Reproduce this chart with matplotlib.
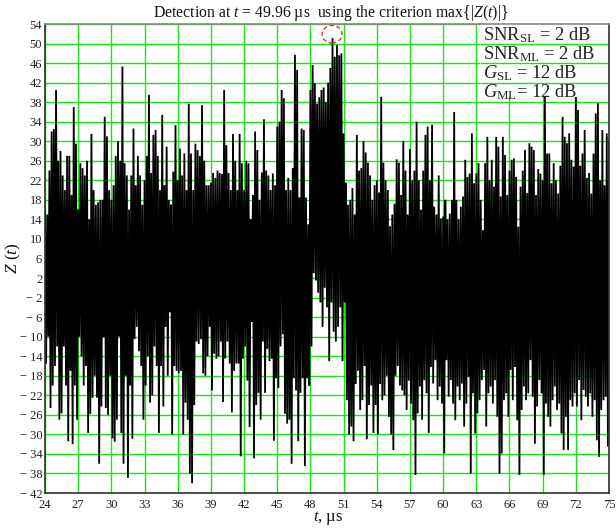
import numpy as np
import matplotlib
matplotlib.use("Agg")
import matplotlib.pyplot as plt
from matplotlib.patches import Ellipse, Rectangle

# ---- data (local maxima / minima, every 0.2 us) ----
z_max = [
    16, 15, 24, 32, 32.5, 40.5, 26, 28, 23, 20, 27, 27, 19, 37, 29.5,          # 24-27
    16, 25.5, 24.5, 23, 26, 14, 31.5, 20, 17, 17.5, 18, 18, 35, 31, 20,         # 27-30
    18, 21, 27, 30, 26, 45.3, 25.5, 23, 16, 23, 32.6, 21, 27, 23, 17,           # 30-33
    22, 27, 39.5, 23.5, 31.3, 32.3, 27, 20, 35.4, 21, 28.9, 18, 17, 23.8, 33.3,  # 33-36
    22, 28.5, 23, 27.5, 20, 37.7, 27.5, 20, 29.5, 28.2, 27, 37.4, 26, 21, 21,   # 36-39
    21.5, 23.5, 22.5, 24, 23.5, 23.3, 40.5, 29.2, 23.5, 20, 31.5, 26, 20, 31.5, 25.5,  # 39-42
    20, 26, 25.5, 14, 19, 32, 28.2, 18, 23.6, 34.5, 24, 23, 20, 23.4, 21,        # 42-45
    33, 34, 40.5, 38.8, 20, 22.5, 20, 24.5, 47.7, 44.6, 18.5, 32.6, 32.3, 18.5, 13,  # 45-48
    40.5, 45.6, 41.9, 37.7, 39, 40.5, 41, 38, 42, 45, 51.1, 47.3, 49.7, 47.6, 48,    # 48-51
    31.6, 21.5, 17, 18, 20.4, 15, 31.3, 24, 24.5, 30, 27.7, 25.6, 23, 18, 21,   # 51-54
    22, 19.5, 39.1, 25.6, 22, 20, 12.6, 15, 17.2, 26.3, 25.6, 19, 30, 24, 15,   # 54-57
    28.4, 22, 24, 34, 22, 16, 24, 31.3, 33, 22, 33.4, 16.6, 15, 23, 14.2,       # 57-60
    14.6, 18, 14, 15.2, 18, 36, 18, 14, 16.6, 18.7, 26.2, 22.7, 23.4, 31.6, 21.4,  # 60-63
    23.4, 25.5, 18, 11.8, 25.5, 30.9, 22, 26.2, 20.7, 30.9, 28.9, 18.7, 30.9, 27.2, 19,  # 63-66
    24, 26.2, 26.5, 22.7, 12.5, 20.7, 24, 28.2, 19.4, 29.6, 28.9, 28.2, 19, 24.3, 23.4,  # 66-69
    22, 40, 27.5, 27.5, 21.4, 25.5, 22, 19.3, 25, 35, 30.9, 29.6, 31.6, 26.2, 24.8,    # 69-72
    40, 36.4, 25, 27.5, 32.3, 22.5, 23.5, 19.3, 27.5, 35.7, 37.8, 22, 32.3, 21, 31.6,  # 72-75
    30,
]
z_min = [
    -15.5, -10, -24.6, -20, -16, -12, -27, -25.7, -12, -20, -31.4, -17, -32, -20, -27,
    -10, -14, -20, -16, -29.7, -25.8, -22.5, -18, -22.5, -36, -24.3, -10, -24.6, -26, -18,
    -30.8, -31.5, -27, -10, -29.7, -36, -18, -38.9, -20, -30.9, -10.5, -8, -13, -16, -27,
    -20, -14, -23.5, -22, -12, -16, -29.7, -16, -24.3, -8, -18, -5, -30, -16, -17,
    -17.5, -17, -30, -23.5, -27, -38, -40, -24, -11, -11.5, -10.5, -17.5, -18, -14, -8,
    -21, -13.5, -14.5, -14, -11, -23.4, -14.5, -11, -15.5, -25.5, -17, -15.5, -15.5, -34.5, -14.5,
    -12, -19, -28.5, -7, -34.9, -24, -21.5, -27, -11, -21.5, -12.5, -15, -14.5, -31.3, -18.5,
    -20.5, -12, -9.5, -25.8, -27.8, -27, -36, -18.5, -21, -31.4, -21.5, -18.5, -36.5, -18.5, -20,
    -12, 3, 1.5, -1, -3, -8, 0, -4, -15, -3, -9, -11, -8, -4, -15,
    -3, -23, -30, -28.4, -31.4, -19.7, -17, -25, -23, -16, -31, -24, -20, -29.7, -24,
    -30, -19.7, -23, -22, -18, -26.4, -30, -33.2, -18, -16, -20, -21, -22, -25, -19,
    -23.7, -27.1, -38.3, -25.7, -20.2, -27, -18.9, -21.6, -29.7, -16.2, -19.6, -14.8, -23, -20.2, -23.7,
    -33.9, -14.8, -22.3, -18.9, -23.7, -27.1, -20.2, -23, -19.6, -28.4, -23.7, -18.2, -38, -21.6, -29.8,
    -25.7, -23, -18.9, -16.8, -28.4, -21.6, -20.2, -23.7, -18.9, -26.4, -38, -33.9, -23, -21.6, -26.4,
    -16.8, -23, -16.2, -27.1, -38.3, -25, -20.2, -23, -21.6, -14.8, -22.3, -31.9, -24.3, -18.9, -21.6,
    -38.3, -23.7, -26.4, -28.4, -23, -20.2, -25, -23.7, -29.8, -33.2, -26.4, -33.2, -23, -24.3, -21.6,
    -24.3, -18.9, -27.1, -20.9, -22.3, -24.3, -21.6, -26.4, -23, -31.2, -34.6, -25, -23, -22.3, -32.5,
]
t_start, t_end = 24, 75
x_ticks = list(range(24, 76, 3))
y_ticks = list(range(-42, 55, 4))
t_detect = 49.96
z_detect = 51.9
legend_lines = [r"SNR$_{\rm SL}$ = 2 dB", r"SNR$_{\rm ML}$ = 2 dB",
                r"$G_{\rm SL}$ = 12 dB", r"$G_{\rm ML}$= 12 dB"]

# ---- build the series ----
z = np.empty(len(z_max) + len(z_min))
z[0::2] = z_max
z[1::2] = z_min
t = np.linspace(t_start, t_end, len(z))

plt.rcParams['font.family'] = ['Liberation Serif', 'DejaVu Serif']
plt.rcParams['mathtext.fontset'] = 'custom'
plt.rcParams['mathtext.rm'] = 'Liberation Serif'
plt.rcParams['mathtext.it'] = 'Liberation Serif:italic'

W, H = 616, 528
fig = plt.figure(figsize=(W / 100, H / 100), dpi=100)
L, R, T, B = 45, 609, 24, 493
ax = fig.add_axes([L / W, 1 - B / H, (R - L) / W, (B - T) / H])

green = '#19e619'
ax.set_xlim(t_start, t_end)
ax.set_ylim(-42, 54)
ax.set_xticks(x_ticks)
ax.set_yticks(y_ticks)
ax.set_xticklabels([str(v) for v in x_ticks])
ax.set_yticklabels([("\u2212 %d" % -v) if v < 0 else str(v) for v in y_ticks])
ax.tick_params(length=0, labelsize=9, colors='#222222')
ax.tick_params(axis='y', pad=2)
ax.tick_params(axis='x', pad=4)
ax.grid(True, color=green, lw=1.0)
ax.set_axisbelow(True)

ax.plot(t, z, color='black', lw=1.3, zorder=2, solid_joinstyle='miter')

# legend block (white background, horizontal grid lines pass through it)
x0 = t_start + (480 - L) / (R - L) * (t_end - t_start)
ax.add_patch(Rectangle((x0, 39), t_end - x0, 54 - 39, facecolor='white',
                       edgecolor='none', zorder=3))
ax.hlines([42, 46, 50], x0, t_end, colors=green, lw=1.0, zorder=3.5)
for i, s in enumerate(legend_lines):
    fig.text(483 / W, 1 - (40 + 19 * i) / H, s, fontsize=13.3, ha='left',
             va='baseline', color='#222222', zorder=5)

# detection marker
ax.add_patch(Ellipse((t_detect, z_detect), 1.8, 3.6, fill=False,
                     edgecolor='#e03030', lw=1.0, ls=(0, (3, 2)), zorder=4))

for s in ['left', 'bottom', 'right']:
    ax.spines[s].set_color('#303030')
    ax.spines[s].set_linewidth(1.2)
ax.spines['top'].set_color('#888888')
ax.spines['top'].set_linewidth(1.2)
for sp in ax.spines.values():
    sp.set_zorder(6)

fig.text(331 / W, 1 - 17 / H,
         r"Detection at $t$ = 49.96 µs  using the criterion max{|$Z$($t$)|}",
         fontsize=11.3, ha='center', va='baseline', color='#111111')
fig.text(328 / W, 1 - 521 / H, r"$t$, µs", fontsize=12, ha='center',
         va='baseline', color='#111111')
fig.text(13 / W, 1 - 258 / H, r"$Z$ ($t$)", fontsize=12.5, ha='center',
         va='center', rotation=90, color='#111111')

fig.savefig("out.png", dpi=100)
